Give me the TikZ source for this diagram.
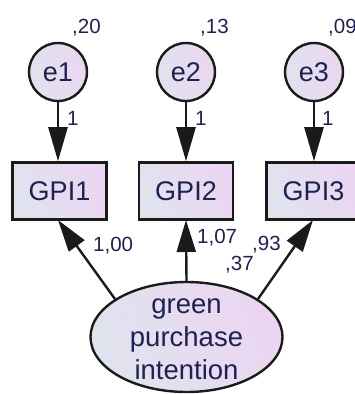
\documentclass[tikz,border=0pt]{standalone}
\usepackage{fontspec}
\setmainfont{Liberation Sans}
\usetikzlibrary{arrows.meta,shapes.geometric}
\definecolor{txt}{HTML}{1F2150}
\definecolor{fillA}{HTML}{E0E3EE}
\definecolor{fillB}{HTML}{ECD5F2}
\definecolor{edge}{HTML}{1A1A1A}
\tikzset{
  gshade/.style={left color=fillA, right color=fillB, shading angle=110},
  errnode/.style={circle, draw=edge, line width=2.4pt, gshade, minimum size=58pt, inner sep=0pt,
     text=txt, font=\fontsize{27}{32}\selectfont},
  obsnode/.style={rectangle, draw=edge, line width=2.6pt, gshade, minimum width=94pt, minimum height=57pt,
     inner sep=0pt, text=txt, font=\fontsize{27}{32}\selectfont},
  latnode/.style={ellipse, draw=edge, line width=2.4pt, gshade, minimum width=192pt, minimum height=110pt, inner sep=0pt},
  lattext/.style={align=center, text=txt, font=\fontsize{27.5}{33}\selectfont, inner sep=0pt},
  lbl/.style={anchor=base west, inner sep=0pt, text=txt, font=\fontsize{20.5}{23}\selectfont},
  conn/.style={line width=2.6pt, draw=edge, -{Triangle[length=34pt,width=19pt]}},
  conn2/.style={line width=2.4pt, draw=edge, -{Triangle[length=32pt,width=19pt]}},
}
\begin{document}
\begin{tikzpicture}[x=1pt,y=-1pt]
\useasboundingbox (0,0) rectangle (355,394);
\clip (0,0) rectangle (355,394);
% latent
\node[latnode] (gpi) at (186.5,337) {};
\node[lattext] (gpitext) at (186.5,339) {green\\purchase\\intention};
% observed
\node[obsnode] (g1) at (59.5,191) {GPI1};
\node[obsnode] (g2) at (186,191) {GPI2};
\node[obsnode] (g3) at (313.5,191) {GPI3};
% errors
\node[errnode] (e1) at (58,72) {e1};
\node[errnode] (e2) at (186,72) {e2};
\node[errnode] (e3) at (314,72) {e3};
% connectors
\draw[conn] (e1.south) -- (e1.south |- g1.north);
\draw[conn] (e2.south) -- (e2.south |- g2.north);
\draw[conn] (e3.south) -- (e3.south |- g3.north);
\coordinate (t1) at (58,220);
\coordinate (t2) at (186,220);
\coordinate (t3) at (313,220);
\draw[conn2] (gpi.152) -- (t1);
\draw[conn2] (gpi.north) -- (t2);
\draw[conn2] (gpi.28) -- (t3);
% labels
\node[lbl] (v1) at (72,33) {,20};
\node[lbl] (v2) at (200,33) {,13};
\node[lbl] (v3) at (328,33) {,09};
\node[lbl] (l1) at (67,125) {1};
\node[lbl] (l2) at (195,125) {1};
\node[lbl] (l3) at (322,125) {1};
\node[lbl] (w1) at (93,251) {1,00};
\node[lbl] (w2) at (197,243) {1,07};
\node[lbl] (w3) at (252,250) {,93};
\node[lbl] (r1) at (225,270) {,37};
\end{tikzpicture}
\end{document}
